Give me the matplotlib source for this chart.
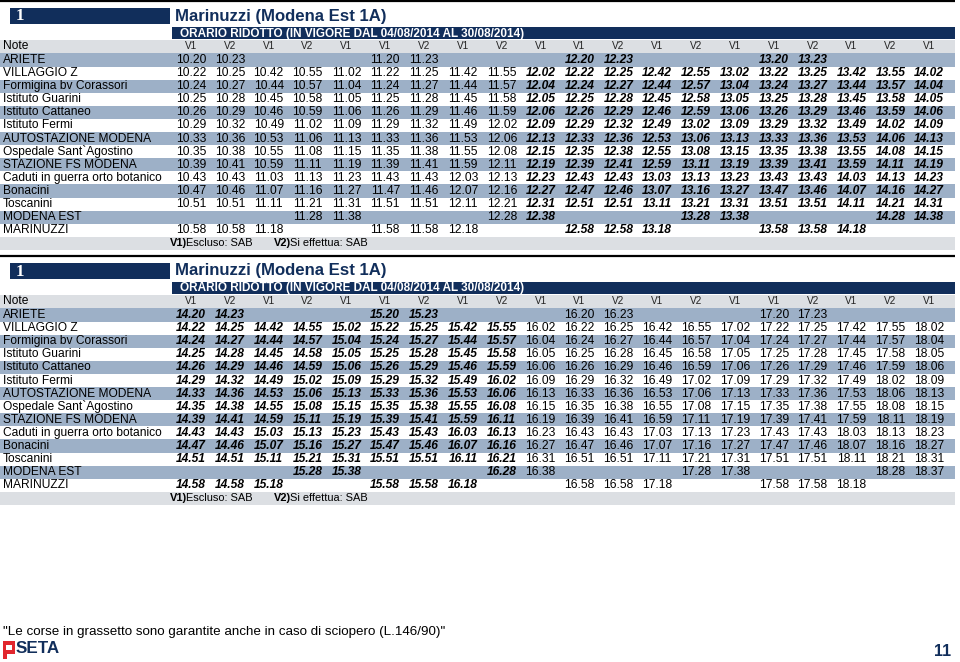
import matplotlib
matplotlib.use("Agg")
import matplotlib.pyplot as plt
from matplotlib.patches import Rectangle

plt.rcParams['font.family'] = ['Liberation Sans', 'DejaVu Sans']

# ---------------------------------------------------------
# Timetable data
# ---------------------------------------------------------
TITLE = "Marinuzzi (Modena Est 1A)"
SUBTITLE = "ORARIO RIDOTTO (IN VIGORE DAL 04/08/2014 AL 30/08/2014)"
LINE_NO = "1"

NOTES = ["V1", "V2", "V1", "V2", "V1", "V1", "V2", "V1", "V2", "V1",
         "V1", "V2", "V1", "V2", "V1", "V1", "V2", "V1", "V2", "V1"]

STOPS = ["ARIETE", "VILLAGGIO Z", "Formigina bv Corassori", "Istituto Guarini",
         "Istituto Cattaneo", "Istituto Fermi", "AUTOSTAZIONE MODENA",
         "Ospedale Sant`Agostino", "STAZIONE FS MODENA",
         "Caduti in guerra orto botanico", "Bonacini", "Toscanini",
         "MODENA EST", "MARINUZZI"]

# "-" = no stop
TIMES_1 = [
    "10.20 10.23 - - - 11.20 11.23 - - - 12.20 12.23 - - - 13.20 13.23 - - -",
    "10.22 10.25 10.42 10.55 11.02 11.22 11.25 11.42 11.55 12.02 12.22 12.25 12.42 12.55 13.02 13.22 13.25 13.42 13.55 14.02",
    "10.24 10.27 10.44 10.57 11.04 11.24 11.27 11.44 11.57 12.04 12.24 12.27 12.44 12.57 13.04 13.24 13.27 13.44 13.57 14.04",
    "10.25 10.28 10.45 10.58 11.05 11.25 11.28 11.45 11.58 12.05 12.25 12.28 12.45 12.58 13.05 13.25 13.28 13.45 13.58 14.05",
    "10.26 10.29 10.46 10.59 11.06 11.26 11.29 11.46 11.59 12.06 12.26 12.29 12.46 12.59 13.06 13.26 13.29 13.46 13.59 14.06",
    "10.29 10.32 10.49 11.02 11.09 11.29 11.32 11.49 12.02 12.09 12.29 12.32 12.49 13.02 13.09 13.29 13.32 13.49 14.02 14.09",
    "10.33 10.36 10.53 11.06 11.13 11.33 11.36 11.53 12.06 12.13 12.33 12.36 12.53 13.06 13.13 13.33 13.36 13.53 14.06 14.13",
    "10.35 10.38 10.55 11.08 11.15 11.35 11.38 11.55 12.08 12.15 12.35 12.38 12.55 13.08 13.15 13.35 13.38 13.55 14.08 14.15",
    "10.39 10.41 10.59 11.11 11.19 11.39 11.41 11.59 12.11 12.19 12.39 12.41 12.59 13.11 13.19 13.39 13.41 13.59 14.11 14.19",
    "10.43 10.43 11.03 11.13 11.23 11.43 11.43 12.03 12.13 12.23 12.43 12.43 13.03 13.13 13.23 13.43 13.43 14.03 14.13 14.23",
    "10.47 10.46 11.07 11.16 11.27 11.47 11.46 12.07 12.16 12.27 12.47 12.46 13.07 13.16 13.27 13.47 13.46 14.07 14.16 14.27",
    "10.51 10.51 11.11 11.21 11.31 11.51 11.51 12.11 12.21 12.31 12.51 12.51 13.11 13.21 13.31 13.51 13.51 14.11 14.21 14.31",
    "- - - 11.28 11.38 - - - 12.28 12.38 - - - 13.28 13.38 - - - 14.28 14.38",
    "10.58 10.58 11.18 - - 11.58 11.58 12.18 - - 12.58 12.58 13.18 - - 13.58 13.58 14.18 - -",
]
TIMES_2 = [
    "14.20 14.23 - - - 15.20 15.23 - - - 16.20 16.23 - - - 17.20 17.23 - - -",
    "14.22 14.25 14.42 14.55 15.02 15.22 15.25 15.42 15.55 16.02 16.22 16.25 16.42 16.55 17.02 17.22 17.25 17.42 17.55 18.02",
    "14.24 14.27 14.44 14.57 15.04 15.24 15.27 15.44 15.57 16.04 16.24 16.27 16.44 16.57 17.04 17.24 17.27 17.44 17.57 18.04",
    "14.25 14.28 14.45 14.58 15.05 15.25 15.28 15.45 15.58 16.05 16.25 16.28 16.45 16.58 17.05 17.25 17.28 17.45 17.58 18.05",
    "14.26 14.29 14.46 14.59 15.06 15.26 15.29 15.46 15.59 16.06 16.26 16.29 16.46 16.59 17.06 17.26 17.29 17.46 17.59 18.06",
    "14.29 14.32 14.49 15.02 15.09 15.29 15.32 15.49 16.02 16.09 16.29 16.32 16.49 17.02 17.09 17.29 17.32 17.49 18.02 18.09",
    "14.33 14.36 14.53 15.06 15.13 15.33 15.36 15.53 16.06 16.13 16.33 16.36 16.53 17.06 17.13 17.33 17.36 17.53 18.06 18.13",
    "14.35 14.38 14.55 15.08 15.15 15.35 15.38 15.55 16.08 16.15 16.35 16.38 16.55 17.08 17.15 17.35 17.38 17.55 18.08 18.15",
    "14.39 14.41 14.59 15.11 15.19 15.39 15.41 15.59 16.11 16.19 16.39 16.41 16.59 17.11 17.19 17.39 17.41 17.59 18.11 18.19",
    "14.43 14.43 15.03 15.13 15.23 15.43 15.43 16.03 16.13 16.23 16.43 16.43 17.03 17.13 17.23 17.43 17.43 18.03 18.13 18.23",
    "14.47 14.46 15.07 15.16 15.27 15.47 15.46 16.07 16.16 16.27 16.47 16.46 17.07 17.16 17.27 17.47 17.46 18.07 18.16 18.27",
    "14.51 14.51 15.11 15.21 15.31 15.51 15.51 16.11 16.21 16.31 16.51 16.51 17.11 17.21 17.31 17.51 17.51 18.11 18.21 18.31",
    "- - - 15.28 15.38 - - - 16.28 16.38 - - - 17.28 17.38 - - - 18.28 18.37",
    "14.58 14.58 15.18 - - 15.58 15.58 16.18 - - 16.58 16.58 17.18 - - 17.58 17.58 18.18 - -",
]
# runs guaranteed during strikes (bold italic)
BOLD_1 = [0, 0, 0, 0, 0, 0, 0, 0, 0, 1, 1, 1, 1, 1, 1, 1, 1, 1, 1, 1]
BOLD_2 = [1, 1, 1, 1, 1, 1, 1, 1, 1, 0, 0, 0, 0, 0, 0, 0, 0, 0, 0, 0]

FOOT_NOTE = "\"Le corse in grassetto sono garantite anche in caso di sciopero (L.146/90)\""
PAGE_NO = "11"

# ---------------------------------------------------------
# Styling
# ---------------------------------------------------------
NAVY = "#112e5b"
SHADE = "#9db0c7"
LIGHT = "#dcdfe3"
W, H = 960, 662
RIGHT = 955
COL_X0, COL_DX = 191, 38.85
ROW_DY = 13.1


def px(v):
    return v * 0.72


def draw_block(ax, y0, times, bold):
    # top rule
    ax.plot([0, RIGHT], [y0 - 1, y0 - 1], color="black", lw=1.6, solid_capstyle="butt")
    # line number box + title
    ax.add_patch(Rectangle((10, y0 + 6), 160, 16, color=NAVY, lw=0))
    ax.text(20, y0 + 14.5, LINE_NO, color="white", fontsize=px(17), fontweight="bold",
            family="Liberation Serif", ha="center", va="center")
    ax.text(175, y0 + 14, TITLE, color=NAVY, fontsize=px(16.7), fontweight="bold",
            ha="left", va="center")
    # subtitle bar
    ax.add_patch(Rectangle((172, y0 + 25), RIGHT - 172, 12, color=NAVY, lw=0))
    ax.text(180, y0 + 31.5, SUBTITLE, color="white", fontsize=px(11.7), fontweight="bold",
            ha="left", va="center")

    # note row
    yn = y0 + 44
    ax.add_patch(Rectangle((0, yn - 6.5), RIGHT, 13, color=LIGHT, lw=0))
    ax.text(3, yn, "Note", fontsize=px(12), ha="left", va="center")
    for j, n in enumerate(NOTES):
        ax.text(COL_X0 + j * COL_DX, yn, n, fontsize=px(10), color="#222222",
                ha="center", va="center")

    # stop rows
    for i, stop in enumerate(STOPS):
        yc = y0 + 58 + i * ROW_DY
        if i % 2 == 0:
            ax.add_patch(Rectangle((0, yc - ROW_DY / 2), RIGHT, ROW_DY, color=SHADE, lw=0))
        ax.text(3, yc, stop, fontsize=px(12), ha="left", va="center")
        for j, t in enumerate(times[i].split()):
            if t == "-":
                continue
            b = bold[j]
            ax.text(COL_X0 + j * COL_DX, yc, t, fontsize=px(12),
                    fontweight="bold" if b else "normal",
                    fontstyle="italic" if b else "normal",
                    ha="center", va="center")

    # legend row
    yl = y0 + 58 + len(STOPS) * ROW_DY
    ax.add_patch(Rectangle((0, yl - 6.5), RIGHT, 13, color=LIGHT, lw=0))
    ax.text(170, yl, "V1)", fontsize=px(11), fontweight="bold", ha="left", va="center")
    ax.text(186, yl, "Escluso: SAB", fontsize=px(11), ha="left", va="center")
    ax.text(274, yl, "V2)", fontsize=px(11), fontweight="bold", ha="left", va="center")
    ax.text(290, yl, "Si effettua: SAB", fontsize=px(11), ha="left", va="center")


fig = plt.figure(figsize=(W / 100, H / 100), dpi=100)
ax = fig.add_axes([0, 0, 1, 1])
ax.set_xlim(0, W)
ax.set_ylim(H, 0)
ax.axis("off")

draw_block(ax, 2, TIMES_1, BOLD_1)
draw_block(ax, 257, TIMES_2, BOLD_2)

# footer
ax.text(3, 632, FOOT_NOTE, fontsize=px(13.4), ha="left", va="center")
# SETA logo
ax.add_patch(Rectangle((3, 641), 12, 13, color="#e1262d", lw=0))
ax.add_patch(Rectangle((6, 644.5), 6, 5, color="white", lw=0))
ax.add_patch(Rectangle((3, 653), 4, 6, color="#e1262d", lw=0))
ax.text(16, 648.5, "SETA", color=NAVY, fontsize=px(17), fontweight="bold",
        ha="left", va="center")
ax.text(943, 651, PAGE_NO, color=NAVY, fontsize=px(16), fontweight="bold",
        ha="center", va="center")

fig.savefig("out.png", dpi=100)
